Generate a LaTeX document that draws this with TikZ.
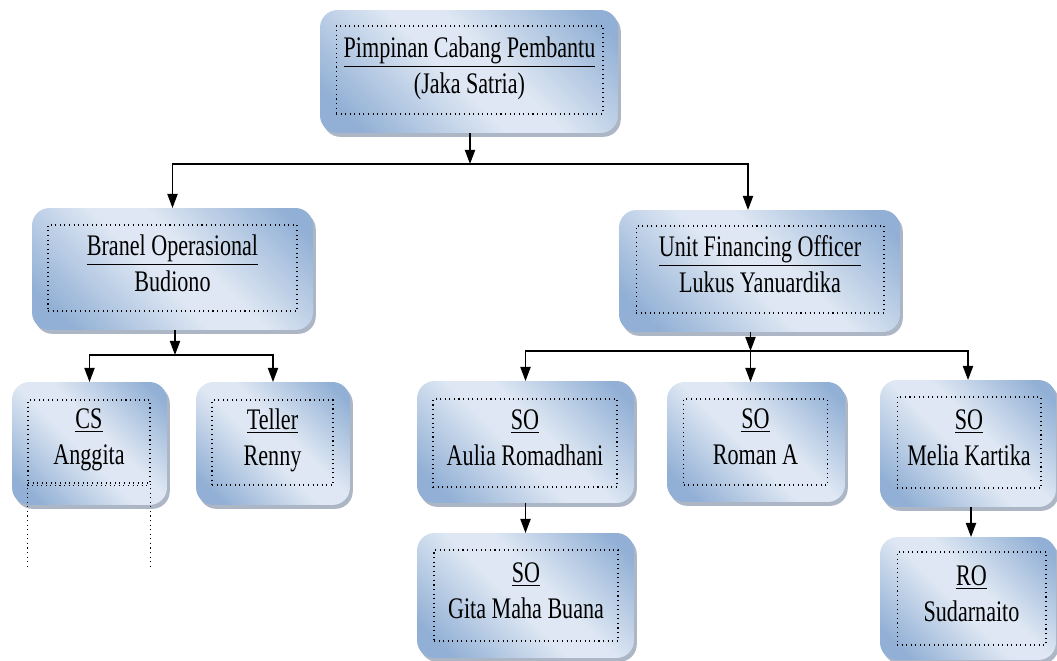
\documentclass[tikz,border=0pt]{standalone}
\usepackage{fontspec}
\setmainfont{Liberation Serif}[FakeStretch=0.74]
\usetikzlibrary{arrows.meta,calc,shadows}
\definecolor{boxdark}{RGB}{146,176,213}
\definecolor{boxlight}{RGB}{222,231,243}
\definecolor{shadowblue}{RGB}{90,110,140}
\pgfdeclarehorizontalshading{postshade}{100bp}{color(0bp)=(boxdark); color(22bp)=(boxdark); color(46bp)=(boxlight); color(56bp)=(boxlight); color(80bp)=(boxdark); color(100bp)=(boxdark)}

\tikzset{
  postbox/.style 2 args={rounded corners=10pt, minimum width=#1cm, minimum height=#2cm,
    inner sep=0pt, outer sep=0pt, shading=postshade, shading angle=45, shade,
    drop shadow={shadow xshift=1.6pt, shadow yshift=-2.2pt, fill=shadowblue, opacity=0.5}},
  innerframe/.style 2 args={draw, dotted, line width=0.6pt, minimum width=#1cm, minimum height=#2cm,
    inner sep=0pt, text depth=6pt, align=center, font=\fontsize{17}{20.5}\selectfont},
  arr/.style={-{Triangle[length=8pt,width=5.8pt]}, line width=0.8pt, black}
}

\begin{document}
\begin{tikzpicture}[x=0.02cm, y=-0.02cm]
  \useasboundingbox (0,0) rectangle (1057,661);
  % head
  \node[postbox={5.96}{2.46}] (kepala) at (469,71.5) {};
  \node[innerframe={5.34}{1.76}] (kepalain) at (469.5,70) {\underline{Pimpinan Cabang Pembantu}\\(Jaka Satria)};
  % second level
  \node[postbox={5.62}{2.44}] (branel) at (172.5,269) {};
  \node[innerframe={4.98}{1.72}] (branelin) at (172.5,268) {\underline{Branel Operasional}\\Budiono};
  \node[postbox={5.62}{2.44}] (ufo) at (759.5,271) {};
  \node[innerframe={4.96}{1.74}] (ufoin) at (760,269.5) {\underline{Unit Financing Officer}\\Lukus Yanuardika};
  % operasional staff
  \node[postbox={3.10}{2.46}] (cs) at (89.5,443.5) {};
  \node[innerframe={2.44}{1.66}] (csin) at (89,441.5) {\underline{CS}\\Anggita};
  \node[postbox={3.08}{2.46}] (teller) at (273,443.5) {};
  \node[innerframe={2.42}{1.70}] (tellerin) at (272.5,442.5) {\underline{Teller}\\Renny};
  % financing staff
  \node[postbox={4.34}{2.44}] (aulia) at (525.5,442) {};
  \node[innerframe={3.68}{1.76}] (auliain) at (525,443) {\underline{SO}\\Aulia Romadhani};
  \node[postbox={3.56}{2.40}] (roman) at (756,442) {};
  \node[innerframe={2.88}{1.72}] (romanin) at (755.5,442) {\underline{SO}\\Roman A};
  \node[postbox={3.52}{2.54}] (melia) at (968,443.5) {};
  \node[innerframe={2.88}{1.82}] (meliain) at (969,442.5) {\underline{SO}\\Melia Kartika};
  \node[postbox={4.34}{2.50}] (gita) at (525.5,595.5) {};
  \node[innerframe={3.68}{1.82}] (gitain) at (526,595.5) {\underline{SO}\\Gita Maha Buana};
  \node[postbox={3.52}{2.46}] (ro) at (968,598.5) {};
  \node[innerframe={2.98}{1.86}] (roin) at (971.5,598.5) {\underline{RO}\\Sudarnaito};
  % stray frame lines under CS
  \draw[dotted, line width=0.6pt] (csin.south west) -- ++(0,84);
  \draw[dotted, line width=0.6pt] (csin.south east) -- ++(0,84);
  \draw[dotted, line width=0.6pt] ([yshift=-1.2pt]csin.south west) -- ([yshift=-1.2pt]csin.south east);
  % connectors
  \coordinate (bus1) at ($(kepala.south)+(1,31)$);
  \draw[arr] (kepala.south -| bus1) -- (bus1);
  \draw[arr] (bus1) -| (branel.north);
  \draw[arr] (bus1) -| ($(ufo.north)+(-11.5,0)$);
  \coordinate (bus2) at ($(branel.south)+(2.5,25)$);
  \draw[arr] (branel.south -| bus2) -- (bus2);
  \draw[arr] (bus2) -| (cs.north);
  \draw[arr] (bus2) -| (teller.north);
  \coordinate (bus3) at ($(ufo.south)+(-9,19)$);
  \draw[arr] (ufo.south -| bus3) -- (bus3);
  \draw[arr] (bus3) -- (bus3 |- roman.north);
  \draw[arr] (bus3) -| (aulia.north);
  \draw[arr] (bus3) -| (melia.north);
  \draw[arr] (aulia.south) -- (gita.north);
  \draw[arr] ($(melia.south)+(3,0)$) -- ($(ro.north)+(3,0)$);
\end{tikzpicture}
\end{document}
